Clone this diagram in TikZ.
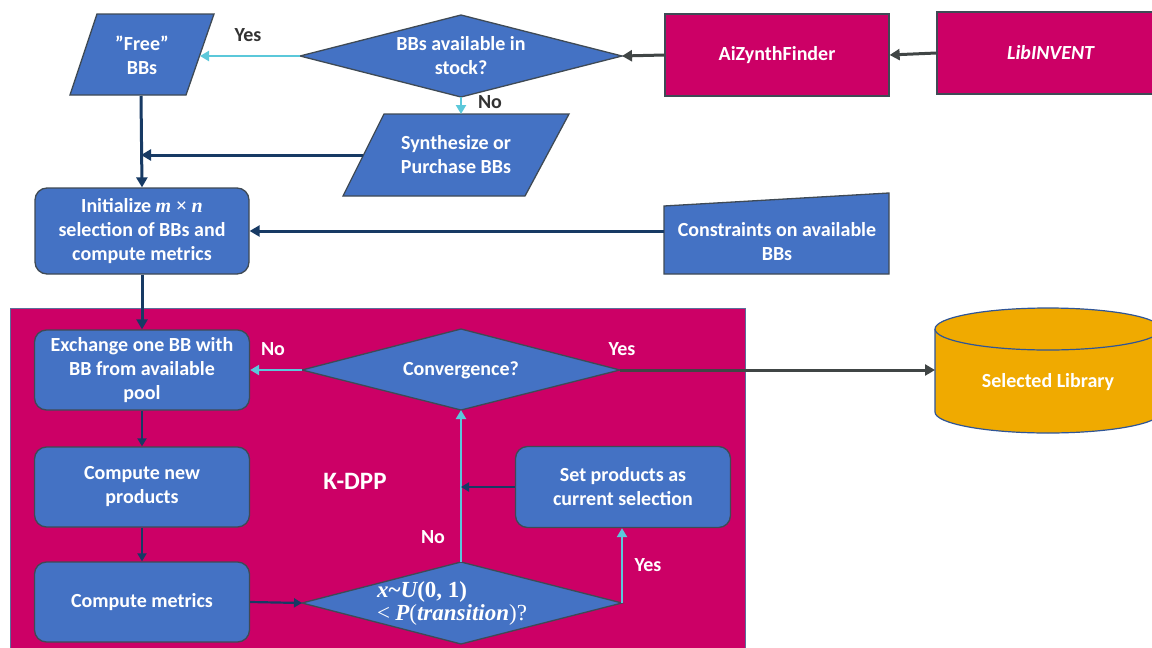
\RequirePackage{fix-cm}
\documentclass[tikz,border=0pt]{standalone}
\usepackage{amsmath}
\usepackage{fontspec}
\setmainfont{Carlito}
\newfontfamily\mathser{Liberation Serif}
\usetikzlibrary{arrows.meta}
\definecolor{bblue}{HTML}{4472C4}
\definecolor{edge}{HTML}{3F4A55}
\definecolor{mag}{HTML}{CC0066}
\definecolor{cyanA}{HTML}{5BC8DA}
\definecolor{navy}{HTML}{173A64}
\definecolor{garr}{HTML}{404545}
\definecolor{gold}{HTML}{F0AA00}
\definecolor{cylb}{HTML}{2F5597}
\definecolor{kframe}{HTML}{5A6E9A}
\definecolor{dtext}{HTML}{333333}
\newcommand{\mi}[1]{{\mathser\bfseries\itshape #1}}
\newcommand{\mr}[1]{{\mathser\bfseries #1}}
\begin{document}
\begin{tikzpicture}[x=1pt,y=-1pt,
  txt/.style={text=white,font=\fontsize{20}{24}\selectfont\bfseries,align=center,inner sep=0pt},
  shp/.style={fill=bblue,draw=edge,line width=1.3pt},
  mbox/.style={fill=mag,draw=edge,line width=1.3pt},
  rbox/.style={shp,rounded corners=12pt},
  lbl/.style={font=\fontsize{20}{24}\selectfont\bfseries,inner sep=0pt},
  cy/.style={draw=cyanA,line width=2.8pt,-{Triangle[length=9pt,width=10pt]}},
  nv/.style={draw=navy,line width=3pt,-{Triangle[length=10pt,width=11pt]}},
  nvt/.style={draw=navy,line width=2.2pt,-{Triangle[length=8pt,width=9pt]}},
  ga/.style={draw=garr,line width=3pt,-{Triangle[length=10pt,width=11pt]}},
]
\useasboundingbox (0,0) rectangle (1152,648);
\clip (0,0) rectangle (1152,648);
\fill[white] (0,0) rectangle (1152,648);

% K-DPP frame
\draw[fill=mag,draw=kframe,line width=1pt] (10,308) rectangle (745,668);
\node[txt,font=\fontsize{25}{28}\selectfont\bfseries] (kdpp) at (355,481) {K-DPP};

% Free BBs
\draw[shp] (97,14)--(214,14)--(186,95)--(70,95)--cycle;
\node[txt] (free) at (142,55) {”Free”\\BBs};
\coordinate (freeR) at (200,56);
\coordinate (freeB) at (141,96);

% Stock diamond
\draw[shp] (300,56)--(461,15)--(622,56)--(461,97)--cycle;
\node[txt] (stock) at (461,56) {BBs available in\\stock?};
\coordinate (stockL) at (300,56);
\coordinate (stockR) at (622,56);
\coordinate (stockB) at (461,97);

% Synthesize
\draw[shp] (384,114)--(569,114)--(525,196)--(343,196)--cycle;
\node[txt] (syn) at (456,155) {Synthesize or\\Purchase BBs};
\coordinate (synT) at (461,114);
\coordinate (synL) at (363,155);
\coordinate (joinA) at (141,155);

% AiZynthFinder, LibINVENT
\node[mbox,txt,minimum width=224pt,minimum height=82pt] (aiz) at (777,55) {AiZynthFinder};
\node[mbox,txt,minimum width=228pt,minimum height=82pt] (lib) at (1051,53) {\textit{LibINVENT}};

% Initialize
\node[rbox,txt,minimum width=214pt,minimum height=86pt] (init) at (142,231)
  {Initialize \mi{m} {\mathser×} \mi{n}\\selection of BBs and\\compute metrics};

% Constraints
\draw[shp] (664,206)--(889,193)--(889,274)--(664,274)--cycle;
\node[txt] (con) at (777,242) {Constraints on available\\BBs};
\coordinate (conL) at (664,231);

% K-DPP boxes
\node[rbox,txt,minimum width=215pt,minimum height=80pt] (exch) at (142,370) {Exchange one BB with\\BB from available\\pool};
\node[rbox,txt,minimum width=215pt,minimum height=80pt] (cnew) at (142,487) {Compute new\\products};
\node[rbox,txt,minimum width=215pt,minimum height=80pt] (cmet) at (142,602) {Compute metrics};
\node[rbox,txt,minimum width=215pt,minimum height=81pt] (setp) at (623,487) {Set products as\\current selection};

% Convergence diamond
\draw[shp] (302,370)--(461,329)--(620,370)--(461,410)--cycle;
\node[txt] (conv) at (461,370) {Convergence?};
\coordinate (convL) at (302,370);
\coordinate (convR) at (620,370);
\coordinate (convB) at (461,410);

% Transition diamond
\draw[shp] (302,603)--(461,562)--(622,603)--(461,644)--cycle;
\node[txt,align=left,anchor=west,font=\fontsize{23}{23}\selectfont] (tr) at (377,603)
  {\mi{x}\mr{\textasciitilde}\mi{U}\mr{(0, 1)}\\{\mathser <} \mi{P}{\mathser (}\mi{transition}{\mathser )?}};
\coordinate (trL) at (302,603);
\coordinate (trR) at (622,603);
\coordinate (trT) at (461,562);

% Cylinder
\fill[gold] (935,329) rectangle (1161,412);
\fill[gold] (1048,412) ellipse [x radius=113pt,y radius=21pt];
\draw[cylb,line width=1.2pt] (935,329)--(935,412) arc[start angle=180,end angle=360,x radius=113pt,y radius=21pt] -- (1161,329);
\draw[cylb,fill=gold,line width=1.2pt] (1048,329) ellipse [x radius=113pt,y radius=21pt];
\node[txt] (cyl) at (1048,382) {Selected Library};
\coordinate (cylL) at (935,370);

% Connectors
\draw[cy] (stockL) -- (freeR);
\draw[cy] (stockB) -- (synT);
\draw[ga] (lib.west) -- (aiz.west -| aiz.east);
\draw[ga] (aiz.west) -- (stockR);
\draw[nv] (freeB) -- (init.north);
\draw[nv] (synL) -- (joinA);
\draw[nv] (conL) -- (init.east);
\draw[nv] (init.south) -- (exch.north);
\draw[nvt] (exch.south) -- (cnew.north);
\draw[nvt] (cnew.south) -- (cmet.north);
\draw[nvt] (cmet.east) -- (trL);
\draw[cy] (convL) -- (exch.east);
\draw[cy] (trT) -- (convB);
\draw[cy] (trR) -- (trR |- setp.south);
\draw[nvt] (setp.west) -- (setp.west -| convB);
\draw[ga] (convR) -- (cylL);

% Labels
\node[lbl,text=dtext] (yes1) at (248,35) {Yes};
\node[lbl,text=dtext] (no1) at (490,102) {No};
\node[lbl,text=white] (no2) at (273,349) {No};
\node[lbl,text=white] (yes2) at (622,349) {Yes};
\node[lbl,text=white] (no3) at (433,537) {No};
\node[lbl,text=white] (yes3) at (648,565) {Yes};
\end{tikzpicture}
\end{document}
